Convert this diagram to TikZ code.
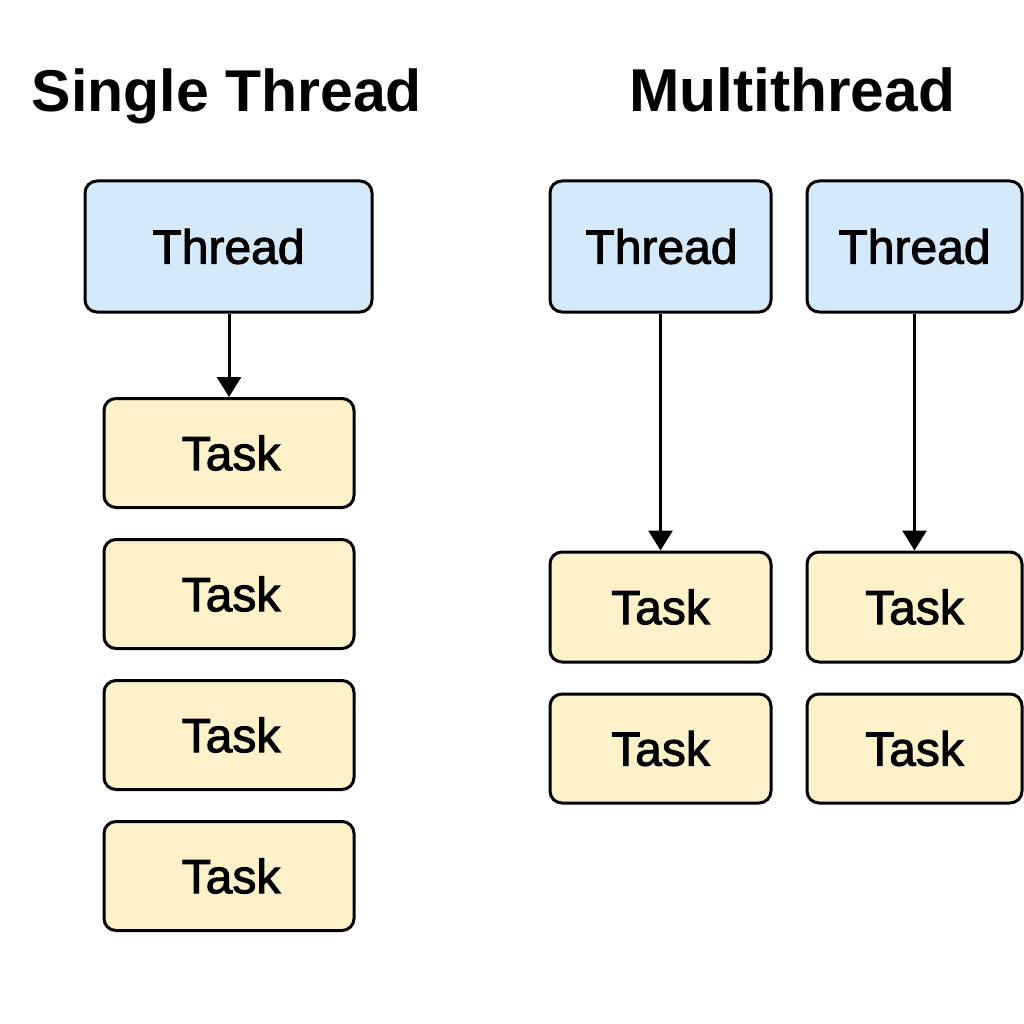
\documentclass[tikz,border=0pt]{standalone}
\usepackage{fontspec}
\setmainfont{Liberation Sans}
\newfontfamily\boxfont[FakeBold=2]{Liberation Sans}
\usetikzlibrary{arrows.meta}
\definecolor{threadblue}{HTML}{D4EAFB}
\definecolor{taskyellow}{HTML}{FDF1C9}
\tikzset{
  box/.style={draw=black, line width=3pt, rounded corners=12pt, inner sep=0pt, align=center, font=\boxfont\fontsize{48}{56}\selectfont},
  threadbox/.style={box, fill=threadblue},
  taskbox/.style={box, fill=taskyellow},
  titlelbl/.style={font=\fontsize{59}{68}\selectfont\bfseries, anchor=base},
  conn/.style={line width=3pt, -{Triangle[length=20pt,width=24pt]}}
}
\begin{document}
\begin{tikzpicture}[x=1pt,y=-1pt]
\useasboundingbox[fill=white] (0,0) rectangle (1024,1024);
% titles
\node[titlelbl] (t1) at (227,112) {Single Thread};
\node[titlelbl, font=\fontsize{60.5}{68}\selectfont\bfseries] (t2) at (792,112) {Multithread};
% single thread
\node[threadbox, minimum width=287pt, minimum height=131pt] (th) at (228.5,246.5) {Thread};
\foreach \i/\y in {1/453,2/594,3/735,4/876}{
  \node[taskbox, minimum width=250pt, minimum height=109pt] (s\i) at (229,\y) {\hspace*{4pt}Task};
}
\draw[conn] (th.south -| 229,0) -- (s1.north -| 229,0);
% multithread
\node[threadbox, minimum width=221pt, minimum height=131pt] (ma) at (660.5,246.5) {\hspace*{2pt}Thread};
\node[threadbox, minimum width=215pt, minimum height=131pt] (mb) at (914.5,246.5) {Thread};
\node[taskbox, minimum width=221pt, minimum height=110pt] (a1) at (660.5,607) {Task};
\node[taskbox, minimum width=221pt, minimum height=109pt] (a2) at (660.5,748.5) {Task};
\node[taskbox, minimum width=215pt, minimum height=110pt] (b1) at (914.5,607) {Task};
\node[taskbox, minimum width=215pt, minimum height=109pt] (b2) at (914.5,748.5) {Task};
\draw[conn] (ma) -- (a1);
\draw[conn] (mb) -- (b1);
\end{tikzpicture}
\end{document}
